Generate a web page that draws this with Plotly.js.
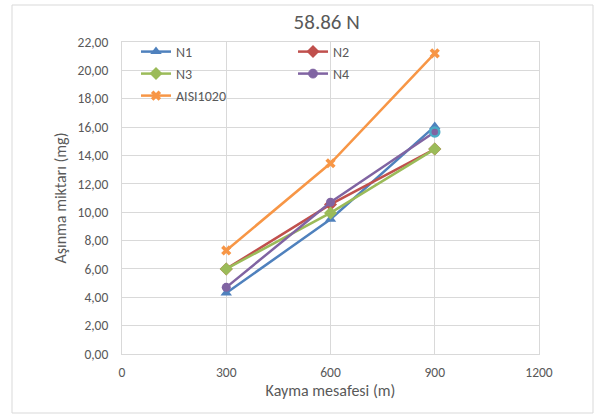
<!DOCTYPE html>
<html>
<head>
<meta charset="utf-8">
<script src="https://cdn.plot.ly/plotly-3.0.1.min.js"></script>
<style>html,body{margin:0;padding:0;background:#fff;}#chart{width:594px;height:416px;}</style>
</head>
<body>
<div id="chart"></div>
<script>
const distance = [300, 600, 900];
const seriesNames = ["N1", "N2", "N3", "N4", "AISI1020"];
const n1 = [4.30, 9.50, 16.05];
const n2 = [6.00, 10.55, 14.45];
const n3 = [6.00, 9.95, 14.45];
const n4 = [4.70, 10.70, 15.65];
const aisi1020 = [7.30, 13.45, 21.20];
const xTicks = [0, 300, 600, 900, 1200];
const yTicks = [0, 2, 4, 6, 8, 10, 12, 14, 16, 18, 20, 22];

const FONT = 'Calibri, Carlito, "Open Sans", "Noto Sans", sans-serif';
const TXT = '#595959';
const GRID = '#d9d9d9';

const colors = ['#4f81bd', '#c0504d', '#9bbb59', '#8064a2', '#f79646'];
const symbols = ['triangle-up', 'diamond', 'diamond', 'circle', 'x'];
const sizes = [10, 10, 10, 9, 9];
const legendIds = ['legend', 'legend', 'legend2', 'legend2', 'legend3'];
const values = [n1, n2, n3, n4, aisi1020];

const traces = values.map((v, i) => {
  const t = {
    x: distance, y: v, name: seriesNames[i], type: 'scatter', mode: 'lines+markers',
    line: {color: colors[i], width: 2.5},
    marker: {symbol: symbols[i], size: sizes[i], color: colors[i]},
    legend: legendIds[i]
  };
  if (i === 3) {
    t.marker.line = {color: ['#8064a2', '#8064a2', '#4bacc6'], width: [0, 0, 2.5]};
  }
  return t;
});

const legBase = {
  orientation: 'h', entrywidth: 112, entrywidthmode: 'pixels',
  font: {family: FONT, size: 14, color: TXT}, bgcolor: 'rgba(0,0,0,0)',
  xanchor: 'left', yanchor: 'middle', itemwidth: 30, tracegroupgap: 0
};
const px = x => (x - 122) / 417;
const py = y => (354 - y) / 312;

const layout = {
  width: 594, height: 416,
  margin: {l: 122, r: 55, t: 42, b: 62},
  paper_bgcolor: '#ffffff', plot_bgcolor: '#ffffff',
  separators: ', ',
  font: {family: FONT, color: TXT, size: 13},
  title: {text: '58.86 N', font: {family: FONT, size: 21, color: TXT}, x: 0.55, xanchor: 'center', y: 0.947, yanchor: 'middle'},
  xaxis: {
    range: [0, 1200], tickvals: xTicks, ticktext: xTicks.map(String),
    showgrid: true, gridcolor: GRID, gridwidth: 1, zeroline: false,
    showline: true, linecolor: GRID, linewidth: 1, mirror: true,
    ticks: '', ticklabelstandoff: 6,
    tickfont: {family: FONT, size: 13.5, color: TXT},
    title: {text: 'Kayma mesafesi (m)', font: {family: FONT, size: 16, color: TXT}, standoff: 4}
  },
  yaxis: {
    range: [0, 22], tickvals: yTicks, tickformat: '.2f',
    showgrid: true, gridcolor: GRID, gridwidth: 1, zeroline: false,
    showline: true, linecolor: GRID, linewidth: 1, mirror: true,
    ticks: '', ticklabelstandoff: 10,
    tickfont: {family: FONT, size: 13.5, color: TXT},
    title: {text: 'Aşınma miktarı (mg)', font: {family: FONT, size: 16, color: TXT}, standoff: 6}
  },
  legend: Object.assign({}, legBase, {x: px(136), y: py(52)}),
  legend2: Object.assign({}, legBase, {x: px(136), y: py(74)}),
  legend3: Object.assign({}, legBase, {x: px(136), y: py(96)}),
  shapes: [{
    type: 'rect', xref: 'paper', yref: 'paper', layer: 'below',
    x0: px(12), x1: px(593), y0: py(413), y1: py(5),
    line: {color: GRID, width: 1}, fillcolor: 'rgba(0,0,0,0)'
  }]
};

Plotly.newPlot('chart', traces, layout, {displayModeBar: false, staticPlot: true});
</script>
</body>
</html>
